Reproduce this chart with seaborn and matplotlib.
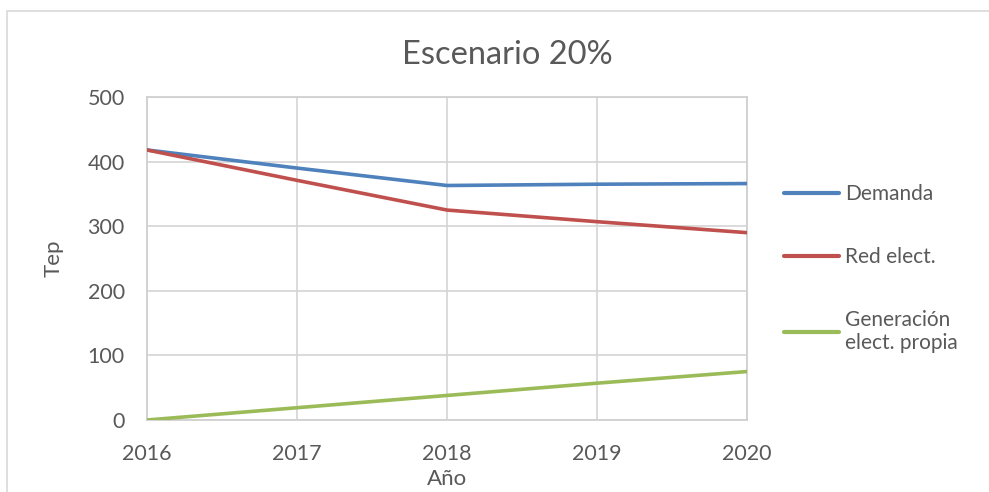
import numpy as np
import pandas as pd
import matplotlib.pyplot as plt
import seaborn as sns
from matplotlib.patches import Rectangle

# Datos
YEARS = [2016, 2017, 2018, 2019, 2020]
DEMANDA = [418, 390, 363, 365, 366]
RED_ELECT = [418, 371, 325, 307, 290]
GEN_PROPIA = [0, 19, 38, 57, 75]
SERIES = ['Demanda', 'Red elect.', 'Generación\nelect. propia']
COLORS = ['#4F81BD', '#C0504D', '#9BBB59']
Y_TICKS = [0, 100, 200, 300, 400, 500]

df = pd.DataFrame({
    'Año': YEARS * 3,
    'Tep': DEMANDA + RED_ELECT + GEN_PROPIA,
    'Serie': [s for s in SERIES for _ in YEARS],
})

sns.set_style('white')
plt.rcParams['font.family'] = ['Lato', 'DejaVu Sans']
TXT = '#595959'

fig = plt.figure(figsize=(9.89, 4.92), dpi=100)
ax = fig.add_axes([147/989, 72/492, 600/989, 323/492])

sns.lineplot(data=df, x='Año', y='Tep', hue='Serie', palette=COLORS,
             linewidth=2.6, ax=ax, legend=False, zorder=3)

ax.set_xlim(YEARS[0], YEARS[-1])
ax.set_ylim(0, 500)
ax.set_xticks(YEARS)
ax.set_yticks(Y_TICKS)
ax.grid(True, color='#d4d4d4', linewidth=1.2)
for sp in ax.spines.values():
    sp.set_color('#d0d0d0')
    sp.set_linewidth(1.3)
ax.tick_params(axis='both', length=0, labelsize=15.5, colors=TXT)
ax.tick_params(axis='x', pad=17)
ax.tick_params(axis='y', pad=16)
ax.set_xlabel('Año', fontsize=16, color=TXT, labelpad=4)
ax.set_ylabel('Tep', fontsize=16, color=TXT, labelpad=17)
fig.text(507/989, 1 - 55/492, 'Escenario 20%', ha='center', va='center',
         fontsize=23.5, color=TXT)

# Leyenda
handles = [plt.Line2D([], [], color=c, linewidth=3) for c in COLORS]
fig.legend(handles, SERIES, loc='upper left', bbox_to_anchor=(774/989, 1 - 174/492),
           frameon=False, fontsize=15, labelcolor=TXT, handlelength=2.6,
           handletextpad=0.3, labelspacing=2.05, borderpad=0)

# Borde del gráfico
fig.add_artist(Rectangle((7/989, -0.1), 1.2, 1 - 11/492 + 0.1, transform=fig.transFigure,
                         fill=False, edgecolor='#d9d9d9', linewidth=1.2))

plt.savefig('out.png', dpi=100)
